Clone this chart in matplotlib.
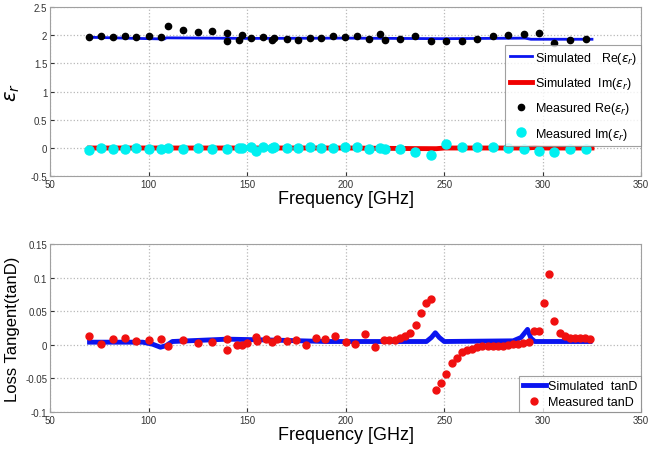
import matplotlib
matplotlib.use("Agg")
import matplotlib.pyplot as plt
from matplotlib.ticker import FormatStrFormatter

plt.rcParams['font.family'] = ['Liberation Sans', 'DejaVu Sans']
plt.rcParams['mathtext.fontset'] = 'dejavusans'

# ---- permittivity (top) ----
sim_re_f = [70, 94, 108, 109, 150, 200, 250, 291, 294, 325]
sim_re_v = [1.965, 1.945, 1.935, 1.955, 1.945, 1.95, 1.94, 1.95, 1.93, 1.93]

sim_im_f = [70, 200, 235, 246, 250, 292, 296, 300, 325]
sim_im_v = [0.0, 0.0, -0.01, -0.012, 0.0, 0.0, 0.01, 0.0, 0.0]

meas_re_f = [69.8, 76.0, 82.1, 87.9, 93.8, 100.0, 106.1, 109.9, 117.5, 125.0,
             132.4, 139.8, 140.0, 146.0, 147.3, 151.9, 157.9, 162.6, 163.4, 170.0,
             175.7, 181.8, 187.3, 193.5, 199.7, 205.6, 211.6, 217.5, 219.8, 227.4,
             235.1, 243.3, 251.1, 258.8, 266.9, 274.7, 282.5, 290.3, 298.0, 305.9,
             313.8, 321.8]
meas_re_v = [1.97, 1.98, 1.97, 1.99, 1.97, 1.98, 1.97, 2.17, 2.09, 2.06,
             2.08, 2.04, 1.90, 1.92, 2.00, 1.96, 1.97, 1.91, 1.96, 1.93,
             1.92, 1.96, 1.95, 1.98, 1.97, 1.98, 1.93, 2.03, 1.92, 1.94,
             1.99, 1.90, 1.90, 1.90, 1.94, 1.99, 2.00, 2.02, 2.04, 1.87,
             1.92, 1.94]

meas_im_f = [69.8, 76.0, 82.1, 87.9, 93.8, 100.0, 106.1, 109.9, 117.5, 125.0,
             132.4, 139.8, 146.0, 147.3, 151.9, 154.5, 157.9, 162.6, 163.4, 170.0,
             175.7, 181.8, 187.3, 193.5, 199.7, 205.6, 211.6, 217.5, 219.8, 227.4,
             235.1, 243.3, 251.1, 258.8, 266.9, 274.7, 282.5, 290.3, 298.0, 305.9,
             313.8, 321.8]
meas_im_v = [-0.035, -0.005, -0.015, -0.015, -0.005, -0.015, -0.015, 0.005, -0.015, -0.005,
             -0.015, -0.015, 0.005, 0.005, 0.01, -0.05, 0.02, -0.005, 0.01, -0.005,
             0.005, 0.015, 0.005, 0.005, 0.015, 0.01, -0.02, -0.005, -0.02, -0.02,
             -0.065, -0.12, 0.08, 0.02, 0.01, 0.01, 0.0, -0.02, -0.045, -0.07,
             -0.02, -0.02]

# ---- loss tangent (bottom) ----
sim_tan_f = [70, 97, 102, 106, 109, 112, 140, 165, 190, 241, 243.5, 245.5, 247.5,
             250, 285, 289, 292.3, 294, 296, 324]
sim_tan_v = [0.004, 0.004, 0.001, -0.0035, -0.001, 0.005, 0.0085, 0.007, 0.005, 0.005,
             0.011, 0.018, 0.011, 0.005, 0.006, 0.011, 0.023, 0.01, 0.005, 0.005]

meas_tan_f = [69.8, 76.0, 82.1, 87.9, 93.8, 100.0, 106.1, 109.9, 117.5, 125.0,
              132.4, 139.8, 140.0, 144.7, 147.3, 149.8, 154.5, 154.8, 159.5, 162.4,
              164.9, 170.0, 175.0, 179.7, 184.7, 189.6, 194.8, 200.0, 204.6, 209.8,
              214.8, 219.5, 222.0, 224.9, 227.6, 230.1, 232.8, 235.5, 238.1, 240.7,
              243.3, 245.9, 248.5, 251.0, 253.8, 256.3, 258.9, 261.5, 264.1, 266.9,
              269.4, 272.0, 274.6, 277.2, 279.7, 282.5, 285.0, 287.6, 290.2, 292.8,
              295.4, 298.2, 300.8, 303.4, 305.9, 308.7, 311.2, 313.8, 316.4, 319.0,
              321.5, 324.2]
meas_tan_v = [0.013, 0.0015, 0.008, 0.010, 0.006, 0.007, 0.008, -0.002, 0.007, 0.0035,
              0.005, 0.009, -0.0075, 0.0, 0.0, 0.003, 0.011, 0.006, 0.008, 0.005,
              0.009, 0.006, 0.007, 0.0, 0.010, 0.009, 0.013, 0.005, 0.002, 0.016,
              -0.0035, 0.007, 0.007, 0.0065, 0.0095, 0.0125, 0.018, 0.030, 0.048, 0.0625,
              0.0685, -0.0665, -0.057, -0.044, -0.027, -0.019, -0.011, -0.008, -0.006, -0.0035,
              -0.002, -0.001, -0.002, -0.002, -0.001, 0.0, 0.001, 0.002, 0.003, 0.005,
              0.020, 0.020, 0.062, 0.105, 0.035, 0.018, 0.013, 0.0105, 0.010, 0.010,
              0.0105, 0.009]

fig = plt.figure(figsize=(6.51, 4.52), dpi=100)
ax1 = fig.add_axes([0.077, 0.608, 0.908, 0.374])
ax2 = fig.add_axes([0.077, 0.086, 0.908, 0.372])


def style(ax):
    ax.set_xlim(50, 350)
    ax.set_xticks([50, 100, 150, 200, 250, 300, 350])
    ax.grid(True, linestyle=':', color='#b8b8b8', linewidth=0.9)
    ax.tick_params(direction='in', length=3, labelsize=7, colors='#333333',
                   pad=2)
    for s in ax.spines.values():
        s.set_color('#a0a0a0')
    ax.yaxis.set_major_formatter(FormatStrFormatter('%g'))
    ax.set_xlabel('Frequency [GHz]', fontsize=13, labelpad=1)


ax1.plot(sim_re_f, sim_re_v, color='#0a14f0', lw=2.0, label=r'Simulated   Re($\varepsilon_r$)')
ax1.plot(sim_im_f, sim_im_v, color='#f00000', lw=3.5, label=r'Simulated  Im($\varepsilon_r$)')
ax1.plot(meas_re_f, meas_re_v, 'o', color='black', ms=4.5, ls='none',
         label=r'Measured Re($\varepsilon_r$)')
ax1.plot(meas_im_f, meas_im_v, 'o', color='#00f0f0', ms=6.5, ls='none',
         label=r'Measured Im($\varepsilon_r$)')
ax1.set_ylim(-0.5, 2.5)
ax1.set_yticks([-0.5, 0, 0.5, 1, 1.5, 2, 2.5])
style(ax1)
ax1.set_ylabel(r'$\varepsilon_r$', fontsize=14, labelpad=6)
leg1 = ax1.legend(loc='upper right', bbox_to_anchor=(1.0, 0.775), fontsize=9,
                  frameon=True, fancybox=False, edgecolor='#888888',
                  handlelength=1.8, handletextpad=0.2, borderpad=0.35,
                  labelspacing=0.75, borderaxespad=0.0)
leg1.get_frame().set_linewidth(0.8)

ax2.plot(sim_tan_f, sim_tan_v, color='#0a14f0', lw=3.5, label='Simulated  tanD')
ax2.plot(meas_tan_f, meas_tan_v, 'o', color='#f01010', ms=5, ls='none',
         label='Measured tanD')
ax2.set_ylim(-0.1, 0.15)
ax2.set_yticks([-0.1, -0.05, 0, 0.05, 0.1, 0.15])
style(ax2)
ax2.set_ylabel('Loss Tangent(tanD)', fontsize=12, labelpad=4)
leg2 = ax2.legend(loc='lower right', fontsize=9, frameon=True, fancybox=False,
                  edgecolor='#888888', handlelength=1.8, handletextpad=0.2,
                  borderpad=0.3, labelspacing=0.35, borderaxespad=0.0)
leg2.get_frame().set_linewidth(0.8)

fig.savefig('out.png', dpi=100)
